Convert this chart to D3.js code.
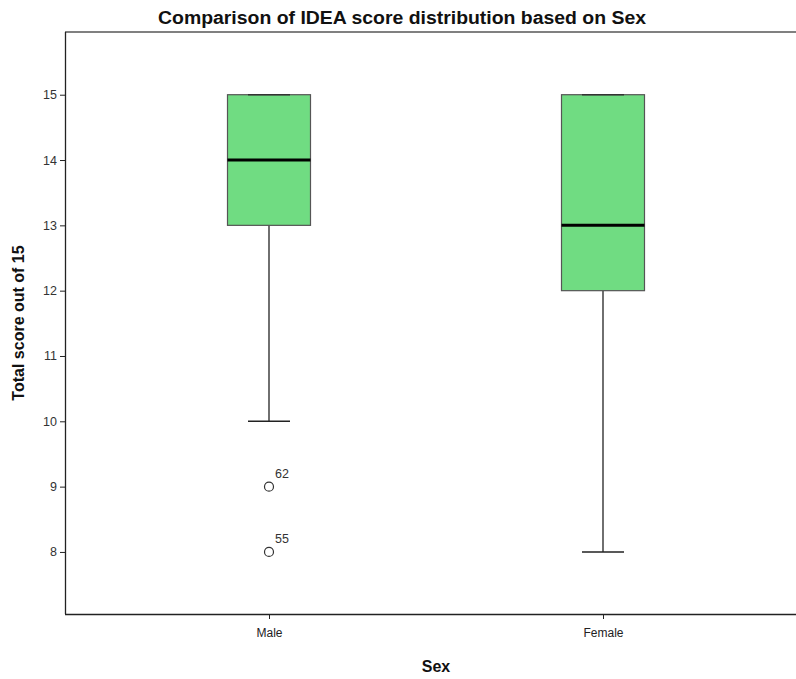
<!DOCTYPE html>
<html><head><meta charset="utf-8">
<script src="https://cdn.jsdelivr.net/npm/d3@7"></script>
<style>body{margin:0;background:#fff}</style>
</head><body>
<svg id="c" width="796" height="679"></svg>
<script>
const categories = ["Male", "Female"];
const mins = [10, 8];
const q1s = [13, 12];
const medians = [14, 13];
const q3s = [15, 15];
const maxs = [15, 15];
const outlierValues = [[9, 8], []];
const outlierLabels = [["62", "55"], []];
const yTicks = [8, 9, 10, 11, 12, 13, 14, 15];

(function () {
const svg = d3.select("#c");
const mLeft = 65, mRight = 796, mTop = 32, mBottom = 614;
const y = d3.scaleLinear().domain([7.05, 15.96]).range([mBottom, mTop]);
const x = d3.scalePoint().domain(categories).range([269, 603]);
const boxW = 83, capW = 42;

// frame top
svg.append("line").attr("x1", mLeft).attr("x2", mRight).attr("y1", mTop).attr("y2", mTop).attr("stroke", "#808080").attr("stroke-width", 2);

const yAxis = svg.append("g").attr("transform", `translate(${mLeft},0)`)
  .call(d3.axisLeft(y).tickValues(yTicks).tickSize(5).tickSizeOuter(0).tickPadding(3));
yAxis.select(".domain").attr("d", `M0.5,${mTop}V${mBottom}`).attr("stroke", "#222").attr("stroke-width", 1.3);
yAxis.selectAll(".tick line").attr("stroke", "#222");
yAxis.selectAll("text").attr("font-family", "Liberation Sans, Arial, sans-serif").attr("font-size", 12.5).attr("fill", "#333");

const xAxis = svg.append("g").attr("transform", `translate(0,${mBottom})`)
  .call(d3.axisBottom(x).tickSize(5).tickSizeOuter(0).tickPadding(9));
xAxis.select(".domain").attr("d", `M${mLeft},0.5H${mRight}`).attr("stroke", "#222").attr("stroke-width", 1.3);
xAxis.selectAll(".tick line").attr("stroke", "#222");
xAxis.selectAll("text").attr("font-family", "Liberation Sans, Arial, sans-serif").attr("font-size", 12).attr("fill", "#222");

const g = svg.append("g");
categories.forEach((c, i) => {
  const cx = x(c);
  g.append("line").attr("x1", cx).attr("x2", cx).attr("y1", y(q1s[i])).attr("y2", y(mins[i])).attr("stroke", "#222").attr("stroke-width", 1.3);
  g.append("line").attr("x1", cx - capW/2).attr("x2", cx + capW/2).attr("y1", y(mins[i])).attr("y2", y(mins[i])).attr("stroke", "#222").attr("stroke-width", 1.5);
  g.append("line").attr("x1", cx).attr("x2", cx).attr("y1", y(q3s[i])).attr("y2", y(maxs[i])).attr("stroke", "#222").attr("stroke-width", 1.3);
  g.append("rect").attr("x", cx - boxW/2).attr("width", boxW)
    .attr("y", y(q3s[i])).attr("height", y(q1s[i]) - y(q3s[i]))
    .attr("fill", "#70dc82").attr("stroke", "#555").attr("stroke-width", 1.2);
  g.append("line").attr("x1", cx - capW/2).attr("x2", cx + capW/2).attr("y1", y(maxs[i])).attr("y2", y(maxs[i])).attr("stroke", "#333").attr("stroke-width", 1.5);
  g.append("line").attr("x1", cx - boxW/2).attr("x2", cx + boxW/2).attr("y1", y(medians[i])).attr("y2", y(medians[i])).attr("stroke", "#000").attr("stroke-width", 3);
  outlierValues[i].forEach((v, j) => {
    g.append("circle").attr("cx", cx).attr("cy", y(v)).attr("r", 4.5).attr("fill", "none").attr("stroke", "#333").attr("stroke-width", 1.2);
    g.append("text").attr("x", cx + 6).attr("y", y(v) - 9).attr("font-family", "Liberation Sans, Arial, sans-serif").attr("font-size", 12.5).attr("fill", "#333").text(outlierLabels[i][j]);
  });
});

svg.append("text").attr("x", 402).attr("y", 24).attr("text-anchor", "middle")
  .attr("font-family", "Liberation Sans, Arial, sans-serif").attr("font-weight", "bold").attr("font-size", 18)
  .attr("textLength", 488).attr("lengthAdjust", "spacingAndGlyphs")
  .attr("fill", "#111").text("Comparison of IDEA score distribution based on Sex");
svg.append("text").attr("transform", `translate(24,323) rotate(-90)`).attr("text-anchor", "middle")
  .attr("font-family", "Liberation Sans, Arial, sans-serif").attr("font-weight", "bold").attr("font-size", 16)
  .attr("fill", "#111").text("Total score out of 15");
svg.append("text").attr("x", 436).attr("y", 672).attr("text-anchor", "middle")
  .attr("font-family", "Liberation Sans, Arial, sans-serif").attr("font-weight", "bold").attr("font-size", 16)
  .attr("fill", "#111").text("Sex");
})();
</script>
</body></html>
